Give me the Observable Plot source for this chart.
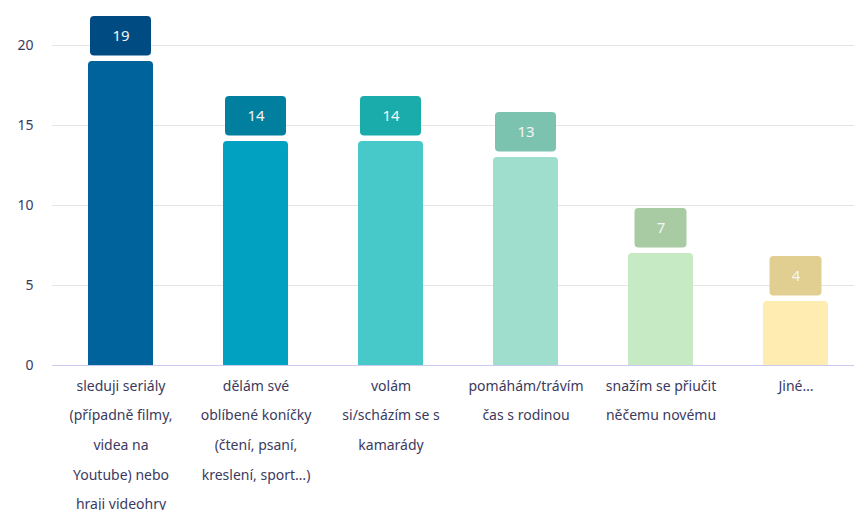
<!DOCTYPE html>
<html>
<head>
<meta charset="utf-8">
<script src="https://cdn.jsdelivr.net/npm/d3@7"></script>
<script src="https://cdn.jsdelivr.net/npm/@observablehq/plot@0.6"></script>
<style>
  html, body { margin: 0; padding: 0; background: #ffffff; overflow: hidden; }
  #chart svg { display: block; }
</style>
</head>
<body>
<div id="chart"></div>
<script>
const categories = [
  "sleduji seriály (případně filmy, videa na Youtube) nebo hraji videohry",
  "dělám své oblíbené koníčky (čtení, psaní, kreslení, sport…)",
  "volám si/scházím se s kamarády",
  "pomáhám/trávím čas s rodinou",
  "snažím se přiučit něčemu novému",
  "Jiné…"
];
const tickLabels = [
  "sleduji seriály\n(případně filmy,\nvidea na\nYoutube) nebo\nhraji videohry",
  "dělám své\noblíbené koníčky\n(čtení, psaní,\nkreslení, sport…)",
  "volám\nsi/scházím se s\nkamarády",
  "pomáhám/trávím\nčas s rodinou",
  "snažím se přiučit\nněčemu novému",
  "Jiné…"
];
const values = [19, 14, 14, 13, 7, 4];
const barColors = ["#00639c", "#00a1c1", "#47c9c9", "#9fdecc", "#c6eac4", "#ffecb0"];
const boxColors = ["#004b82", "#007f9f", "#1aacaa", "#7cc3af", "#a8cba4", "#e0cf91"];
const yTicks = [0, 5, 10, 15, 20];

const data = categories.map((c, i) => ({cat: c, value: values[i], bar: barColors[i], box: boxColors[i]}));
const labelOf = new Map(categories.map((c, i) => [c, tickLabels[i]]));
const textColor = "#3b3a5e";

const chart = Plot.plot({
  width: 854,
  height: 510,
  marginLeft: 52,
  marginRight: 0,
  marginTop: 45,
  marginBottom: 145,
  style: {fontFamily: "'Noto Sans', sans-serif", background: "#ffffff"},
  x: {domain: categories, range: [52, 864], paddingInner: 0.52, paddingOuter: 0.26, label: null},
  y: {domain: [0, 20], label: null},
  color: {type: "identity"},
  marks: [
    Plot.gridY(yTicks.filter(t => t > 0), {stroke: "#e4e4e4", strokeOpacity: 1}),
    Plot.barY(data, {x: "cat", y: "value", fill: d => d.bar, rx: 4, insetBottom: -6, clip: true}),
    Plot.barY(data.filter(d => d.value >= 10), {x: "cat", y1: "value", y2: "value", fill: d => d.box, rx: 4, insetTop: -45, insetBottom: 5.5, insetLeft: 2, insetRight: 2}),
    Plot.barY(data.filter(d => d.value < 10), {x: "cat", y1: "value", y2: "value", fill: d => d.box, rx: 4, insetTop: -45, insetBottom: 5.5, insetLeft: 6.5, insetRight: 6.5}),
    Plot.text(data, {x: "cat", y: "value", text: d => String(d.value), dy: -25, fill: "#f5f5f5", fontSize: 15}),
    Plot.ruleY([0], {stroke: "#cacaee", strokeWidth: 1}),
    Plot.axisY({ticks: yTicks, tickSize: 0, tickPadding: 19, fontSize: 14, fill: textColor, label: null}),
    Plot.axisX({tickSize: 0, tickPadding: 4, fontSize: 14, lineHeight: 2.12, fill: textColor, tickFormat: c => labelOf.get(c), label: null})
  ]
});
document.getElementById("chart").appendChild(chart);
</script>
</body>
</html>
